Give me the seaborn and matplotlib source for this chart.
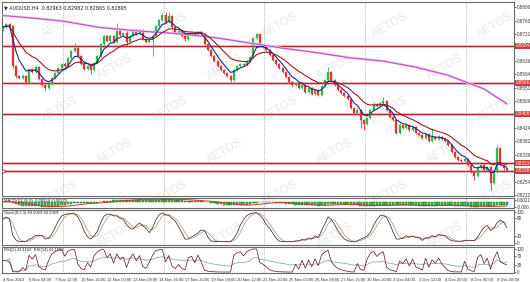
import numpy as np
import pandas as pd
import matplotlib
matplotlib.use("Agg")
import matplotlib.pyplot as plt
from matplotlib.transforms import blended_transform_factory
import seaborn as sns

# ---------------- data ----------------
symbol_title = "AUDUSD,H4  0.82963 0.82982 0.82865 0.82895"
x_labels = ["4 Nov 2014", "6 Nov 04:00", "7 Nov 12:00", "10 Nov 16:00", "12 Nov 00:00",
            "13 Nov 08:00", "14 Nov 16:00", "17 Nov 20:00", "19 Nov 04:00", "20 Nov 12:00",
            "21 Nov 20:00", "25 Nov 00:00", "26 Nov 08:00", "27 Nov 16:00", "30 Nov 20:00",
            "2 Dec 04:00", "3 Dec 12:00", "4 Dec 20:00", "8 Dec 00:00", "9 Dec 08:00"]
x_label_bars = [0, 8, 16, 24, 32, 40, 48, 56, 64, 72, 80, 88, 96, 104, 112, 120, 128, 136, 144, 152]

first_open = 0.8733
closes = [
    0.8743, 0.8752, 0.8746, 0.8620, 0.8588, 0.8582, 0.8588, 0.8569, 0.8610, 0.8601,
    0.8616, 0.8579, 0.8560, 0.8550, 0.8563, 0.8582, 0.8597, 0.8613, 0.8626, 0.8620,
    0.8645, 0.8667, 0.8676, 0.8651, 0.8626, 0.8610, 0.8620, 0.8607, 0.8629, 0.8651,
    0.8689, 0.8714, 0.8699, 0.8714, 0.8695, 0.8730, 0.8718, 0.8724, 0.8695, 0.8714,
    0.8733, 0.8721, 0.8733, 0.8705, 0.8695, 0.8702, 0.8714, 0.8746, 0.8765, 0.8781,
    0.8759, 0.8778, 0.8743, 0.8724, 0.8730, 0.8714, 0.8705, 0.8721, 0.8724, 0.8718,
    0.8727, 0.8721, 0.8689, 0.8670, 0.8651, 0.8635, 0.8620, 0.8607, 0.8597, 0.8588,
    0.8575, 0.8607, 0.8620, 0.8626, 0.8623, 0.8635, 0.8648, 0.8708, 0.8721, 0.8686,
    0.8680, 0.8670, 0.8654, 0.8639, 0.8626, 0.8613, 0.8601, 0.8585, 0.8569, 0.8560,
    0.8566, 0.8550, 0.8560, 0.8537, 0.8550, 0.8531, 0.8544, 0.8528, 0.8556, 0.8575,
    0.8601, 0.8575, 0.8560, 0.8544, 0.8534, 0.8525, 0.8515, 0.8487, 0.8471, 0.8481,
    0.8449, 0.8436, 0.8455, 0.8481, 0.8500, 0.8493, 0.8503, 0.8509, 0.8481, 0.8458,
    0.8449, 0.8408, 0.8433, 0.8424, 0.8433, 0.8417, 0.8427, 0.8408, 0.8402, 0.8392,
    0.8405, 0.8383, 0.8395, 0.8389, 0.8395, 0.8389, 0.8383, 0.8370, 0.8348, 0.8332,
    0.8323, 0.8319, 0.8326, 0.8307, 0.8285, 0.8272, 0.8297, 0.8307, 0.8291, 0.8300,
    0.8250, 0.8285, 0.8361, 0.8307, 0.8296, 0.8290]
up_wick_pips = [
    4, 3, 3, 3, 4, 3, 5, 3, 4, 3,
    4, 3, 3, 3, 4, 3, 3, 4, 3, 5,
    3, 4, 16, 3, 3, 4, 3, 4, 3, 3,
    4, 3, 5, 3, 4, 25, 4, 3, 5, 4,
    3, 5, 3, 4, 3, 4, 3, 4, 3, 5,
    9, 12, 3, 4, 3, 4, 3, 4, 3, 3,
    4, 3, 3, 4, 3, 3, 4, 3, 3, 4,
    3, 4, 3, 4, 3, 4, 3, 4, 3, 4,
    3, 4, 3, 3, 4, 3, 3, 4, 3, 3,
    4, 3, 4, 3, 4, 3, 4, 3, 4, 3,
    15, 4, 3, 3, 4, 3, 3, 4, 3, 5,
    3, 4, 3, 4, 5, 3, 4, 13, 3, 4,
    3, 4, 5, 3, 4, 3, 4, 3, 3, 4,
    3, 4, 29, 4, 5, 3, 4, 3, 3, 4,
    3, 4, 3, 4, 3, 4, 5, 3, 4, 3,
    4, 3, 9, 3, 4, 2]
low_wick_pips = [
    3, 4, 3, 7, 5, 4, 3, 4, 3, 4,
    3, 4, 3, 6, 4, 3, 3, 4, 3, 3,
    4, 3, 3, 4, 3, 4, 3, 13, 3, 4,
    3, 4, 3, 4, 3, 3, 4, 3, 12, 3,
    4, 3, 4, 3, 4, 3, 50, 3, 4, 3,
    4, 3, 3, 4, 3, 4, 5, 3, 4, 3,
    3, 4, 3, 3, 4, 3, 4, 3, 4, 3,
    6, 3, 4, 3, 4, 3, 3, 4, 3, 4,
    3, 4, 3, 4, 3, 4, 3, 3, 4, 4,
    3, 4, 3, 4, 3, 4, 3, 4, 3, 3,
    4, 3, 4, 3, 3, 4, 3, 4, 3, 4,
    25, 19, 3, 4, 3, 4, 3, 3, 4, 3,
    4, 3, 4, 3, 4, 3, 4, 3, 3, 4,
    3, 4, 3, 4, 3, 4, 3, 4, 3, 4,
    3, 4, 3, 4, 3, 13, 4, 3, 4, 3,
    22, 4, 3, 3, 4, 3]

# slow (violet) moving average read at a few bars
ma_long_bar = [0, 8, 18, 30, 42, 55, 66, 76, 86, 97, 107, 117, 127, 137, 148, 155]
ma_long_val = [0.8779, 0.8772, 0.8762, 0.8741, 0.8730, 0.8721, 0.8708, 0.8692,
               0.8676, 0.8661, 0.8645, 0.8635, 0.8616, 0.8590, 0.8547, 0.8500]

levels = [0.8684, 0.8566, 0.8468, 0.8313, 0.8288]
price_ticks = [0.8212, 0.8254, 0.8339, 0.8382, 0.8424, 0.8509, 0.8551,
               0.8594, 0.8636, 0.8721, 0.8763, 0.8806]
grid_bars = [18.5, 49.5, 80.3, 111.4, 142.5]

stoch_label = "Stoch(8,3,3) 49.0929 60.5929"
rsi_label = "RSI(2) 41.1162  RSI(14) 41.1608"
macd_label = "MACD(12,26,9) -0.00214 -0.00170"

# ---------------- derived series ----------------
n = len(closes)
bars = np.arange(n)
close = pd.Series(closes, dtype=float)
open_ = close.shift(1).fillna(first_open)
high = np.maximum(open_, close) + np.array(up_wick_pips) * 1e-4
low = np.minimum(open_, close) - np.array(low_wick_pips) * 1e-4
df = pd.DataFrame({"bar": bars, "open": open_, "close": close, "high": high, "low": low})
df["ma_fast"] = close.ewm(span=5, adjust=False).mean()
df["ma_mid"] = close.ewm(span=14, adjust=False).mean()

hh = df["high"].rolling(8, min_periods=1).max()
ll = df["low"].rolling(8, min_periods=1).min()
num = (close - ll).rolling(3, min_periods=1).sum()
den = (hh - ll).rolling(3, min_periods=1).sum()
df["stoch_k"] = 100 * num / den
df["stoch_d"] = df["stoch_k"].rolling(3, min_periods=1).mean()

def rsi(s, p):
    d = s.diff().fillna(0)
    g = d.clip(lower=0).ewm(alpha=1 / p, adjust=False).mean()
    l = (-d.clip(upper=0)).ewm(alpha=1 / p, adjust=False).mean()
    r = 100 - 100 / (1 + g / l.replace(0, np.nan))
    return r.fillna(50)

df["rsi_fast"] = rsi(close, 2)
df["rsi_slow"] = rsi(close, 14)
df["macd"] = close.ewm(span=12, adjust=False).mean() - close.ewm(span=26, adjust=False).mean()
df["signal"] = df["macd"].rolling(9, min_periods=1).mean()

# ---------------- figure ----------------
sns.set_theme(style="white")
plt.rcParams["font.family"] = ["Liberation Sans", "DejaVu Sans"]

W, H = 530, 282
fig = plt.figure(figsize=(W / 100, H / 100), dpi=100)
fig.patch.set_facecolor("white")

def rect(x0, y0, x1, y1):
    return [x0 / W, 1 - y1 / H, (x1 - x0) / W, (y1 - y0) / H]

ax = fig.add_axes(rect(2, 2, 514, 196))
axm = fig.add_axes(rect(2, 198, 514, 208), sharex=ax)
axs = fig.add_axes(rect(2, 210, 514, 245), sharex=ax)
axr = fig.add_axes(rect(2, 247, 514, 273), sharex=ax)

# faint watermark, kept inside the picture
for row, yy in enumerate([25, 67, 109, 151, 193, 235]):
    cols = [60, 170, 280, 390, 495] if row % 2 == 0 else [115, 225, 335, 445]
    for xx in cols:
        fig.text(xx / W, 1 - yy / H, "AETOS", color="#efefef", fontsize=8.5, fontweight="bold",
                 rotation=30, ha="center", va="center", zorder=-5)

spine_c = "#6a6a6a"
fs = 3.3
for a in (ax, axm, axs, axr):
    a.set_facecolor("none")
    for sp in a.spines.values():
        sp.set_color(spine_c)
        sp.set_linewidth(0.8)
    a.yaxis.tick_right()
    a.tick_params(axis="y", length=1.2, width=0.5, labelsize=fs, pad=0.8, colors="#333333")
    a.tick_params(axis="x", length=0)
    for g in grid_bars:
        a.axvline(g, color="#8a8a8a", lw=0.5, ls=(0, (1, 1.5)), zorder=1)
    a.set_xlim(-0.31, 157.2)

# candles
bull = df["close"] >= df["open"]
col = np.where(bull, "#2eb84a", "#e3342f")
body = (df["close"] - df["open"]).to_numpy()
body = np.where(np.abs(body) < 0.00006, 0.00006, body)
ax.vlines(df["bar"], df["low"], df["high"], colors=col, lw=0.6, zorder=3)
ax.bar(df["bar"], body, bottom=df["open"], width=0.62, color=col, edgecolor=col, lw=0.2, zorder=4)

# moving averages
sns.lineplot(x=ma_long_bar, y=ma_long_val, ax=ax, color="#f4c8f4", lw=1.8, zorder=5)
sns.lineplot(x=ma_long_bar, y=ma_long_val, ax=ax, color="#c84ac8", lw=0.8, zorder=5)
sns.lineplot(data=df, x="bar", y="ma_mid", ax=ax, color="#9a1f1f", lw=0.8, zorder=6)
sns.lineplot(data=df, x="bar", y="ma_fast", ax=ax, color="#1c2a8c", lw=0.8, zorder=7)

# horizontal levels
tr = blended_transform_factory(ax.transAxes, ax.transData)
for lv in levels:
    ax.axhline(lv, color="#f3c3c3", lw=2.0, zorder=2)
    ax.axhline(lv, color="#b02a35", lw=0.9, zorder=2)
    ax.text(1.003, lv, f"{lv:.4f}", transform=tr, fontsize=fs, color="white", va="center", ha="left",
            bbox=dict(boxstyle="square,pad=0.12", fc="#d23a3a", ec="none"), clip_on=False)
ax.plot([0.0], [levels[-1]], marker="o", ms=2.2, mfc="white", mec="#b02a35", mew=0.6, zorder=8)

ax.set_ylim(0.88281 - 0.000316 * 196, 0.88281 - 0.000316 * 2)
ax.set_yticks(price_ticks)
ax.set_yticklabels([f"{v:.4f}" for v in price_ticks])
ax.set_xlabel("")
ax.set_ylabel("")
ax.text(0.004, 0.985, "\u25bc " + symbol_title, transform=ax.transAxes, fontsize=3.5,
        color="#222222", va="top", ha="left", family=["DejaVu Sans"])

# MACD panel
axm.bar(df["bar"], df["macd"], width=0.75, color="#49c24d", edgecolor="#1d5a1d", lw=0.3, zorder=3)
sns.lineplot(data=df, x="bar", y="signal", ax=axm, color="#c0392b", lw=0.7, zorder=4)
axm.set_ylim(-0.0055, 0.0035)
axm.set_yticks([0.0021, -0.0045])
axm.set_yticklabels(["0.0021", "-0.006"])
axm.text(0.004, 0.93, macd_label, transform=axm.transAxes, fontsize=3.0, color="#222222",
         va="top", ha="left")
axm.set_xlabel(""); axm.set_ylabel("")

# Stochastic panel
sns.lineplot(data=df, x="bar", y="stoch_d", ax=axs, color="#9aa585", lw=0.55, zorder=3)
sns.lineplot(data=df, x="bar", y="stoch_k", ax=axs, color="#5b2323", lw=0.55, zorder=4)
axs.set_ylim(-8, 106)
axs.set_yticks([100, 80, 20, 0])
axs.set_yticklabels(["100", "80", "20", "0"])
axs.text(0.004, 0.97, stoch_label, transform=axs.transAxes, fontsize=3.0, color="#222222",
         va="top", ha="left")
axs.set_xlabel(""); axs.set_ylabel("")

# RSI panel
sns.lineplot(data=df, x="bar", y="rsi_slow", ax=axr, color="#7fb07f", lw=0.55, zorder=3)
sns.lineplot(data=df, x="bar", y="rsi_fast", ax=axr, color="#6b2340", lw=0.55, zorder=4)
axr.set_ylim(-4, 108)
axr.set_yticks([100, 70, 30, 0])
axr.set_yticklabels(["100", "70", "30", "0"])
axr.text(0.004, 0.97, rsi_label, transform=axr.transAxes, fontsize=3.0, color="#222222",
         va="top", ha="left")
axr.set_xlabel(""); axr.set_ylabel("")

for a in (ax, axm, axs):
    plt.setp(a.get_xticklabels(), visible=False)
axr.set_xticks(x_label_bars)
axr.set_xticklabels(x_labels, ha="left", fontsize=3.0, color="#333333")
axr.tick_params(axis="x", length=2, width=0.5, pad=1.5, colors="#333333")

fig.savefig("out.png", dpi=100, facecolor="white")
